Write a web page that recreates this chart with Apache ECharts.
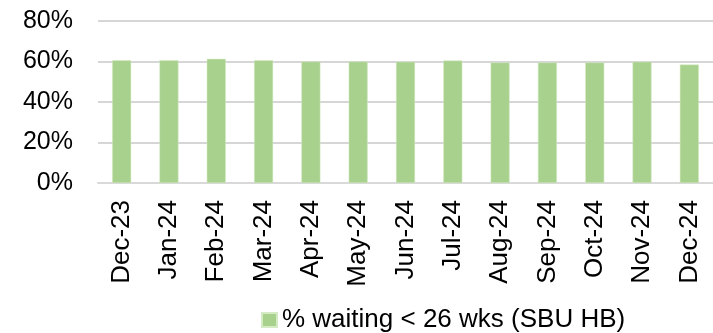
<!DOCTYPE html>
<html>
<head>
<meta charset="utf-8">
<script src="https://cdn.jsdelivr.net/npm/echarts@6/dist/echarts.min.js"></script>
<style>
  html, body { margin: 0; padding: 0; background: #fff; }
  #chart { width: 713px; height: 333px; }
</style>
</head>
<body>
<div id="chart"></div>
<script>
// Monthly share of patients waiting under 26 weeks
const months = ['Dec-23', 'Jan-24', 'Feb-24', 'Mar-24', 'Apr-24', 'May-24', 'Jun-24',
                'Jul-24', 'Aug-24', 'Sep-24', 'Oct-24', 'Nov-24', 'Dec-24'];
const pctUnder26 = [60.6, 60.6, 61.3, 60.6, 60.0, 60.0, 59.9, 60.5, 59.5, 59.5, 59.5, 59.9, 58.5];
const seriesName = '% waiting < 26 wks (SBU HB)';
const yTicks = { min: 0, max: 80, interval: 20 };

const font = 'Liberation Sans, Arial, sans-serif';
const chart = echarts.init(document.getElementById('chart'), null, { renderer: 'canvas' });

chart.setOption({
  animation: false,
  backgroundColor: '#ffffff',
  grid: { left: 98, right: 0, top: 21, bottom: 150, containLabel: false },
  legend: {
    data: [seriesName],
    left: 256,
    top: 302,
    itemWidth: 15,
    itemHeight: 14,
    icon: 'rect',
    textStyle: { fontFamily: font, fontSize: 26, color: '#000' }
  },
  xAxis: {
    type: 'category',
    data: months,
    axisLine: { show: true, lineStyle: { color: '#d9d9d9', width: 2 } },
    axisTick: { show: false },
    axisLabel: {
      rotate: 90,
      margin: 17,
      interval: 0,
      fontFamily: font,
      fontSize: 26,
      color: '#000'
    }
  },
  yAxis: {
    type: 'value',
    min: yTicks.min,
    max: yTicks.max,
    interval: yTicks.interval,
    axisLine: { show: false },
    axisTick: { show: false },
    splitLine: { lineStyle: { color: '#d6d6d6', width: 2 } },
    axisLabel: {
      margin: 25,
      fontFamily: font,
      fontSize: 25,
      color: '#000',
      formatter: v => v + '%'
    }
  },
  series: [{
    name: seriesName,
    type: 'bar',
    data: pctUnder26,
    barWidth: 19,
    itemStyle: { color: '#a9d18e', borderColor: '#d4ebc4', borderWidth: 0.5 }
  }]
});
</script>
</body>
</html>
